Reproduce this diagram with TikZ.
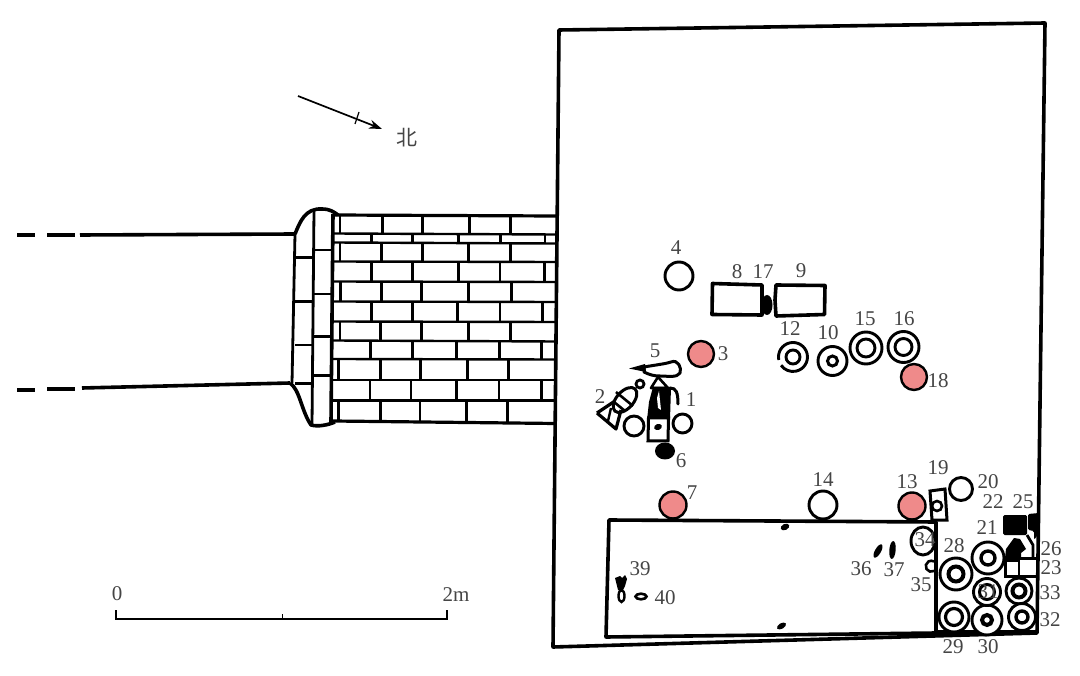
\documentclass[tikz,border=0pt]{standalone}
\usepackage{fontspec}
\setmainfont{Liberation Serif}
\newfontfamily\cjkfont{Noto Sans CJK SC}
\usetikzlibrary{arrows.meta}
\definecolor{pinkfill}{HTML}{EF8A8A}
\definecolor{labelgray}{HTML}{454545}
\tikzset{
  wall/.style={line width=3.6pt,line join=round},
  brick/.style={line width=2.4pt},
  ring/.style={line width=2.9pt,fill=white},
  thickring/.style={line width=4pt},
  pinkpit/.style={draw=black,line width=2.4pt,fill=pinkfill},
  lab/.style={text=labelgray,font=\fontsize{21}{21}\selectfont,inner sep=0pt},
}
\newcommand{\joints}[3]{\foreach \jx in {#3}{\draw[brick] ({280+\jx/3},#1) -- ({280+\jx/3},#2);}}
\begin{document}
\begin{tikzpicture}[x=1pt,y=-1pt]
\useasboundingbox (0,0) rectangle (1080,676);
% main chamber
\draw[wall] (559,30) -- (1045,23) -- (1037,633) -- (553,647) -- cycle;
% inner chamber
\draw[wall] (609,520) -- (936,522) -- (936,633) -- (606,637) -- cycle;
\draw[line width=4.5pt] (936,632.5) -- (1037,632.5);
% approach walls
\draw[wall] (80,235) -- (295,234);
\draw[wall] (17,235) -- (35,235) (47,235) -- (75,235);
\draw[wall] (82,388) -- (290,383);
\draw[wall] (17,390) -- (35,390) (47,389) -- (75,389);
% gate outline
\draw[wall] (295,234) .. controls (300,222) and (305,208) .. (322,209)
   .. controls (330,209) and (334,212) .. (338,215);
\draw[wall] (290,383) .. controls (300,390) and (301,410) .. (311,425)
   .. controls (318,427) and (328,425) .. (335,422);
\draw[line width=2.8pt] (295,234) -- (292,383);
\draw[line width=2.8pt] (314,210) -- (312,425);
\draw[line width=3.6pt] (333,214) -- (331,422);
\foreach \a in {150,282,410,527}{\draw[brick] (314,{200+\a/3}) -- (332,{200+\a/3});}
\foreach \a in {172,305,435,550}{\draw[brick] (295,{200+\a/3}) -- (313,{200+\a/3});}
% courses
\foreach \ya/\yb in {233.5/234.5,242.5/243.5,261.5/262,281.5/282,301.5/302,321.5/322,340.5/341.5,359/359.5,380/380,400.5/400.5}{
  \draw[brick] (333,\ya) -- (556,\yb);}
\draw[line width=3.2pt] (333,215) -- (556,216);
\draw[line width=3.2pt] (333,421) -- (556,423.5);
\joints{215}{234}{180,308,428,568,692}
\joints{234}{243}{275,398,535,662,795}
\joints{243}{262}{180,305,428,566,692}
\joints{262}{282}{275,398,535,660,793}
\joints{282}{302}{182,305,425,566,695}
\joints{302}{322}{275,398,532,660,787}
\joints{322}{341}{180,302,425,565,692}
\joints{341}{359}{272,398,530,658,785}
\joints{359}{380}{175,302,422,563,685}
\joints{380}{401}{270,393,530,657,785}
\joints{401}{422}{175,302,420,560,683}
% north arrow
\coordinate (na) at (298,96);
\coordinate (nb) at (382,129);
\draw[line width=1.7pt,-{Stealth[length=13pt,width=9pt]}] (na) -- (nb);
\draw[line width=1.2pt] (355,124) -- (359,112);
\node[text=labelgray,font=\cjkfont\fontsize{21}{21}\selectfont,inner sep=0pt] (north) at (407,138) {北};
% scale
\draw[line width=1.6pt] (116,610) -- (116,619) -- (447,619) -- (447,610);
\draw[line width=1pt] (282,614) -- (282,619);
\node[lab] (s0) at (117,594) {0};
\node[lab] (s2) at (456,595) {2m};
% red pits
\node[circle,pinkpit,minimum size=26pt,inner sep=0pt] (p3) at (701,354) {};
\node[circle,pinkpit,minimum size=26pt,inner sep=0pt] (p18) at (914,377) {};
\node[circle,pinkpit,minimum size=27pt,inner sep=0pt] (p7) at (673,505) {};
\node[circle,pinkpit,minimum size=27pt,inner sep=0pt] (p13) at (912,506) {};
% plain circles
\draw[ring] (679,276) circle (14);
\draw[ring] (823,505) circle (14);
\draw[ring] (961,489) circle (11.5);
\draw[ring] (634,426) circle (10);
\draw[ring] (682.5,423.5) circle (9.5);
% coffins 8, 9, 17
\draw[wall] (712.5,283.5) -- (762,285) -- (762,315) -- (712,314.5) -- cycle;
\draw[wall] (776,285) -- (825,285.5) -- (824.5,314.5) -- (776,316) -- (775,300) -- cycle;
\fill (767,305) ellipse (5.5 and 10);
% rings
\draw[line width=2.9pt] (778.8,360) arc (168:505:14.5);
\draw[ring] (793,357) circle (7);
\draw[ring] (832.5,361) circle (14.5);
\draw[line width=3pt] (832.5,361) circle (5);
\draw[ring] (866,348) circle (16);
\draw[ring] (866,348) circle (9);
\draw[ring] (903.5,347) circle (15.5);
\draw[ring] (903.5,347) circle (8.5);
% group 1,2,5,6
\fill (629,368.5) -- (645,364) -- (646,372) -- cycle;
\draw[line width=3pt,line join=round] (644,367) .. controls (655,365) and (665,364) .. (671,362)
  .. controls (678,359) and (682,368) .. (680,373) .. controls (677,378) and (668,376) .. (660,376) .. controls (654,376) and (650,375) .. (644,372) -- cycle;
\draw[line width=2.6pt,line join=round] (658,377) -- (651,388) -- (668,388) -- cycle;
\fill (653,387) -- (671,387) -- (670,420) -- (647,420) -- (649,402) -- cycle;
\fill[white] (659,391) -- (661,410) -- (658,408) -- (657,398) -- cycle;
\draw[line width=3pt,line cap=round] (670,388) .. controls (676,388) and (678,392) .. (678,404);
\draw[line width=3pt,fill=white] (648.5,418) -- (668.5,418) -- (668,441) -- (648,441) -- cycle;
\fill[rotate around={20:(658,427)}] (658,427) ellipse (4 and 3);
\fill (665,451) ellipse (10 and 8.5);
\draw[line width=2.8pt] (640,384) circle (4);
\draw[line width=3pt,fill=white,rotate around={-42:(625,400)}] (625,400) ellipse (8.5 and 15);
\draw[line width=2.6pt] (616,392) -- (633,406) (614,402) -- (625,411);
\draw[line width=3.2pt,line join=round] (597,413) -- (615,401) (597,413) -- (616,429) -- (621,410);
\draw[line width=2.4pt] (608,421) -- (611,408);
% 13-side group
\draw[line width=3pt,fill=white] (930,491) -- (945,489) -- (947,520) -- (932,520) -- cycle;
\draw[line width=2.6pt] (937,506) circle (5);
\draw[ring] (923,541) ellipse (12 and 14);
\draw[line width=2.6pt] (934,571) arc (60:300:5.5);
% SE compartment rings
\draw[ring] (956,574) circle (16);
\draw[thickring] (956,574) circle (7.5);
\draw[ring] (954,617) circle (15);
\draw[line width=3.2pt] (954,617) circle (8.5);
\draw[ring] (987,620) circle (15);
\draw[thickring] (987,620) circle (5);
\draw[ring] (987,592) circle (13.5);
\draw[line width=3pt] (987,592) circle (7.5);
\draw[ring] (988,558) circle (16);
\draw[line width=3.4pt] (988,558) circle (7);
\draw[ring] (1019,591) circle (13);
\draw[thickring] (1019,591) circle (6.5);
\draw[ring] (1022,617) circle (13.5);
\draw[line width=3.4pt] (1022,617) circle (6);
% 22, 25, 26, 23
\fill[rounded corners=1.5pt] (1003,515) -- (1027,515) -- (1027,535) -- (1003,535) -- cycle;
\fill[rounded corners=1.5pt] (1028,514) -- (1039,513) -- (1039,533) -- (1034,540) -- (1034,531) -- (1028,530) -- cycle;
\fill (1014,538) -- (1020,539) -- (1026,549) -- (1021,553) -- (1021,558) -- (1005,558) -- (1006,549) -- cycle;
\draw[line width=2.8pt] (1027,535) -- (1033,545) -- (1033,558);
\draw[line width=3pt] (1005,557) -- (1005,576) -- (1036,576);
\draw[line width=3pt] (1005,558) -- (1036,558);
\draw[line width=2.6pt] (1019,556) -- (1019,575);
\draw[line width=1.2pt] (1006,561) -- (1018,561);
% small finds
\fill[rotate around={25:(785,527)}] (785,527) ellipse (4.5 and 3);
\fill[rotate around={30:(781.5,626)}] (781.5,626) ellipse (5 and 2.8);
\fill[rotate around={-30:(878,551)}] (878,551) ellipse (3 and 7.5);
\fill[rotate around={-5:(892.5,550)}] (892.5,550) ellipse (3.2 and 9);
\fill (615,578) -- (620,576) -- (622,578) -- (625,575) -- (627,579) -- (625,586) -- (622,592) -- (618,590) -- cycle;
\draw[line width=2.4pt] (621.5,596) ellipse (3 and 6);
\draw[line width=2.6pt] (641,596.5) ellipse (5.5 and 2.8);
% labels
\foreach \n/\x/\y in {4/676/248,8/737/272,17/763/272,9/801/271,12/790/329,10/828/333,15/865/319,16/904/319,
 3/723/354,18/938/381,5/655/351,2/600/397,1/691/400,6/681/461,7/692/493,14/823/480,13/907/482,19/938/468,
 20/988/482,22/993/502,25/1023/502,21/987/528,28/954/546,34/925/540,26/1051/549,23/1051/568,33/1050/593,
 32/1050/620,35/921/585,36/861/569,37/894/570,29/953/647,30/988/647,39/640/569,40/665/598,31/988/592}{
  \node[lab] (n\n) at (\x,\y) {\n};}
\end{tikzpicture}
\end{document}
